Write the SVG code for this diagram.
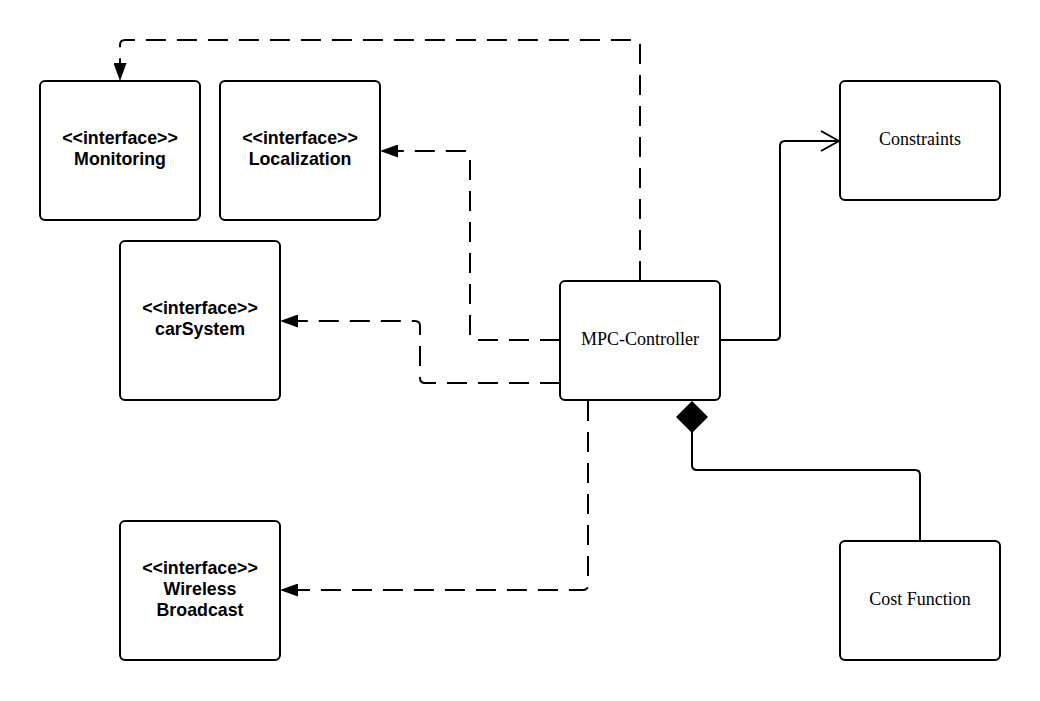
<svg xmlns="http://www.w3.org/2000/svg" width="1040" height="701" viewBox="0 0 1040 701">
  <style>
    .box { fill: #ffffff; stroke: #000000; stroke-width: 2; }
    .iface { font-family: "Liberation Sans", Arial, sans-serif; font-size: 17.8px; font-weight: bold; fill: #000; text-anchor: middle; }
    .cls { font-family: "Liberation Serif", "Times New Roman", serif; font-size: 18px; fill: #000; text-anchor: middle; }
    .dep { fill: none; stroke: #000; stroke-width: 2; stroke-dasharray: 20 11; }
    .solid { fill: none; stroke: #000; stroke-width: 2; }
  </style>
  <defs>
    <marker id="filled" markerWidth="18" markerHeight="13" refX="17" refY="6.5" orient="auto" markerUnits="userSpaceOnUse">
      <path d="M0,0 L18,6.5 L0,13 Z" fill="#000"/>
    </marker>
    <marker id="open" markerWidth="20" markerHeight="22" refX="19" refY="11" orient="auto" markerUnits="userSpaceOnUse">
      <path d="M1,1 L19,11 L1,21" fill="none" stroke="#000" stroke-width="2"/>
    </marker>
  </defs>
  <rect width="1040" height="701" fill="#ffffff"/>

  <g id="connectors">
    <!-- MPC-Controller to Monitoring -->
    <path class="dep" d="M640,281 L640,45 Q640,40 635,40 L125,40 Q120,40 120,45 L120,80" marker-end="url(#filled)"/>
    <!-- MPC-Controller to Localization -->
    <path class="dep" d="M560,340 L475,340 Q470,340 470,335 L470,156 Q470,151 465,151 L381,151" marker-end="url(#filled)"/>
    <!-- MPC-Controller to carSystem -->
    <path class="dep" d="M560,383 L425,383 Q420,383 420,378 L420,326 Q420,321 415,321 L281,321" marker-end="url(#filled)"/>
    <!-- MPC-Controller to Wireless Broadcast -->
    <path class="dep" d="M588,401 L588,585 Q588,590 583,590 L281,590" marker-end="url(#filled)"/>
    <!-- MPC-Controller to Constraints -->
    <path class="solid" d="M721,340 L775,340 Q780,340 780,335 L780,146 Q780,141 785,141 L839,141" marker-end="url(#open)"/>
    <!-- Cost Function composed into MPC-Controller -->
    <path class="solid" d="M920,541 L920,475 Q920,470 915,470 L697,470 Q692,470 692,465 L692,432"/>
    <path d="M692,401 L708,417 L692,433 L676,417 Z" fill="#000"/>
  </g>

  <g id="monitoring">
    <rect class="box" x="40" y="81" width="160" height="139" rx="5"/>
    <text class="iface" x="120" y="144">&lt;&lt;interface&gt;&gt;</text>
    <text class="iface" x="120" y="165">Monitoring</text>
  </g>
  <g id="localization">
    <rect class="box" x="220" y="81" width="160" height="139" rx="5"/>
    <text class="iface" x="300" y="144">&lt;&lt;interface&gt;&gt;</text>
    <text class="iface" x="300" y="165">Localization</text>
  </g>
  <g id="carSystem">
    <rect class="box" x="120" y="241" width="160" height="159" rx="5"/>
    <text class="iface" x="200" y="314">&lt;&lt;interface&gt;&gt;</text>
    <text class="iface" x="200" y="335">carSystem</text>
  </g>
  <g id="wirelessBroadcast">
    <rect class="box" x="120" y="521" width="160" height="139" rx="5"/>
    <text class="iface" x="200" y="574">&lt;&lt;interface&gt;&gt;</text>
    <text class="iface" x="200" y="595">Wireless</text>
    <text class="iface" x="200" y="616">Broadcast</text>
  </g>
  <g id="mpcController">
    <rect class="box" x="560" y="281" width="160" height="119" rx="5"/>
    <text class="cls" x="640" y="345">MPC-Controller</text>
  </g>
  <g id="constraints">
    <rect class="box" x="840" y="81" width="160" height="119" rx="5"/>
    <text class="cls" x="920" y="145">Constraints</text>
  </g>
  <g id="costFunction">
    <rect class="box" x="840" y="541" width="160" height="119" rx="5"/>
    <text class="cls" x="920" y="605">Cost Function</text>
  </g>
</svg>
